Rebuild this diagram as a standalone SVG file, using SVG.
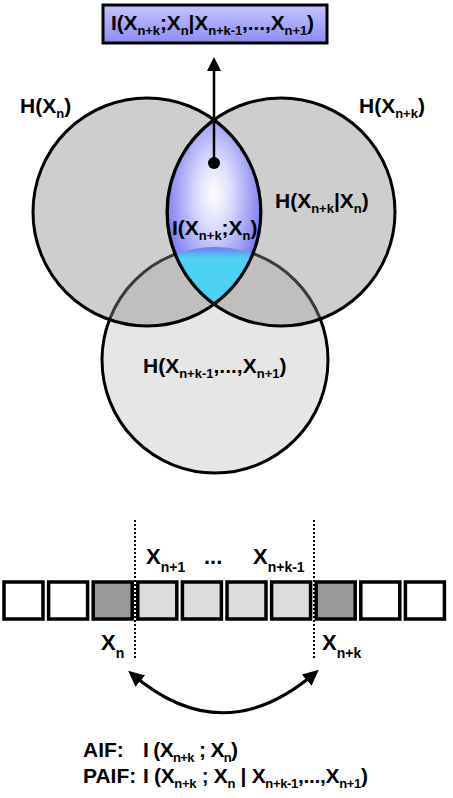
<svg xmlns="http://www.w3.org/2000/svg" width="453" height="798" viewBox="0 0 453 798">
<style>
text{font-family:"Liberation Sans",Arial,sans-serif;font-weight:bold;fill:#000}
.m{font-size:21px}
.s{font-size:13px}
.b{font-size:22px}
.bs{font-size:14px}
.circ{stroke:#000;stroke-width:3}
.sq{stroke:#000;stroke-width:3.5}
.dot{stroke:#000;stroke-width:2;stroke-dasharray:2 2}
</style>
<defs>
<radialGradient id="lensG" cx="0.5" cy="0.4" r="0.62">
<stop offset="0" stop-color="#ffffff"/>
<stop offset="0.3" stop-color="#dcdcfd"/>
<stop offset="1" stop-color="#6262ee"/>
</radialGradient>
<linearGradient id="cyanG" x1="0" y1="0" x2="0" y2="1">
<stop offset="0" stop-color="#6a7cf0"/>
<stop offset="0.05" stop-color="#4ed2f4"/>
<stop offset="1" stop-color="#4ed2f4"/>
</linearGradient>
<linearGradient id="boxG" x1="0" y1="0" x2="0" y2="1">
<stop offset="0" stop-color="#c4c4ff"/>
<stop offset="1" stop-color="#8c8cf2"/>
</linearGradient>
<clipPath id="lensClip">
<path d="M214 120 A114 114 0 0 1 214 304 A114 114 0 0 1 214 120 Z"/>
</clipPath>
<marker id="ah" markerUnits="userSpaceOnUse" markerWidth="17" markerHeight="16" refX="11" refY="7.5" orient="auto-start-reverse">
<path d="M0 0 L16 7.5 L0 15 Z" fill="#000"/>
</marker>
</defs>

<g id="venn">
<g id="circle-past"><circle class="circ" cx="215" cy="360" r="113" fill="#e6e6e6"/></g>
<g id="circle-xn"><circle class="circ" cx="147" cy="212" r="114" fill="#8a8a8a" fill-opacity="0.42"/></g>
<g id="circle-xnk"><circle class="circ" cx="281" cy="212" r="114" fill="#8a8a8a" fill-opacity="0.42"/></g>
<g id="lens">
<path d="M214 120 A114 114 0 0 1 214 304 A114 114 0 0 1 214 120 Z" fill="url(#lensG)"/>
<circle cx="215" cy="360" r="113" fill="url(#cyanG)" clip-path="url(#lensClip)"/>
<path d="M214 120 A114 114 0 0 1 214 304 A114 114 0 0 1 214 120 Z" fill="none" stroke="#000" stroke-width="3"/>
</g>
<text class="m" x="20" y="113">H(X<tspan class="s" dy="5">n</tspan><tspan dy="-5">)</tspan></text>
<text class="m" x="359" y="113">H(X<tspan class="s" dy="5">n+k</tspan><tspan dy="-5">)</tspan></text>
<text class="m" x="275" y="208">H(X<tspan class="s" dy="5">n+k</tspan><tspan dy="-5">|X</tspan><tspan class="s" dy="5">n</tspan><tspan dy="-5">)</tspan></text>
<text class="m" x="172" y="235">I(X<tspan class="s" dy="5">n+k</tspan><tspan dy="-5">;X</tspan><tspan class="s" dy="5">n</tspan><tspan dy="-5">)</tspan></text>
<text class="m" x="143" y="373">H(X<tspan class="s" dy="5">n+k-1</tspan><tspan dy="-5">,...,X</tspan><tspan class="s" dy="5">n+1</tspan><tspan dy="-5">)</tspan></text>
</g>

<g id="top-box">
<rect x="103" y="5" width="224" height="38" fill="url(#boxG)" stroke="#000" stroke-width="3"/>
<text class="m" x="111" y="30" textLength="203" lengthAdjust="spacing">I(X<tspan class="s" dy="5">n+k</tspan><tspan dy="-5">;X</tspan><tspan class="s" dy="5">n</tspan><tspan dy="-5">|X</tspan><tspan class="s" dy="5">n+k-1</tspan><tspan dy="-5">,...,X</tspan><tspan class="s" dy="5">n+1</tspan><tspan dy="-5">)</tspan></text>
</g>

<g id="connectors">
<line x1="214" y1="163" x2="214" y2="70" stroke="#000" stroke-width="2.5"/>
<polygon points="214,57 207,71 221,71" fill="#000"/>
<circle cx="214" cy="163" r="6" fill="#000"/>
<path d="M132 674 Q223 752 315 673" fill="none" stroke="#000" stroke-width="3" marker-start="url(#ah)" marker-end="url(#ah)"/>
</g>

<g id="sequence">
<rect class="sq" x="4" y="582" width="39" height="37" fill="#fff"/>
<rect class="sq" x="48.6" y="582" width="39" height="37" fill="#fff"/>
<rect class="sq" x="93.2" y="582" width="39" height="37" fill="#999"/>
<rect class="sq" x="137.8" y="582" width="39" height="37" fill="#dcdcdc"/>
<rect class="sq" x="182.4" y="582" width="39" height="37" fill="#dcdcdc"/>
<rect class="sq" x="227" y="582" width="39" height="37" fill="#dcdcdc"/>
<rect class="sq" x="271.6" y="582" width="39" height="37" fill="#dcdcdc"/>
<rect class="sq" x="316.2" y="582" width="39" height="37" fill="#999"/>
<rect class="sq" x="360.8" y="582" width="39" height="37" fill="#fff"/>
<rect class="sq" x="405.4" y="582" width="39" height="37" fill="#fff"/>
<line class="dot" x1="135" y1="520" x2="135" y2="660"/>
<line class="dot" x1="314" y1="520" x2="314" y2="660"/>
<text class="b" x="146" y="564">X<tspan class="bs" dy="8">n+1</tspan></text>
<text class="b" x="204" y="564">...</text>
<text class="b" x="253" y="564">X<tspan class="bs" dy="8">n+k-1</tspan></text>
<text class="b" x="101" y="650">X<tspan class="bs" dy="8">n</tspan></text>
<text class="b" x="322" y="650">X<tspan class="bs" dy="8">n+k</tspan></text>
</g>

<g id="formulas">
<text class="m" x="83" y="757">AIF:</text>
<text class="m" x="143" y="757" textLength="95" lengthAdjust="spacing">I (X<tspan class="s" dy="5">n+k</tspan><tspan dy="-5"> ; X</tspan><tspan class="s" dy="5">n</tspan><tspan dy="-5">)</tspan></text>
<text class="m" x="83" y="783">PAIF:</text>
<text class="m" x="143" y="783" textLength="225" lengthAdjust="spacing">I (X<tspan class="s" dy="5">n+k</tspan><tspan dy="-5"> ; X</tspan><tspan class="s" dy="5">n</tspan><tspan dy="-5"> | X</tspan><tspan class="s" dy="5">n+k-1</tspan><tspan dy="-5">,...,X</tspan><tspan class="s" dy="5">n+1</tspan><tspan dy="-5">)</tspan></text>
</g>
</svg>
